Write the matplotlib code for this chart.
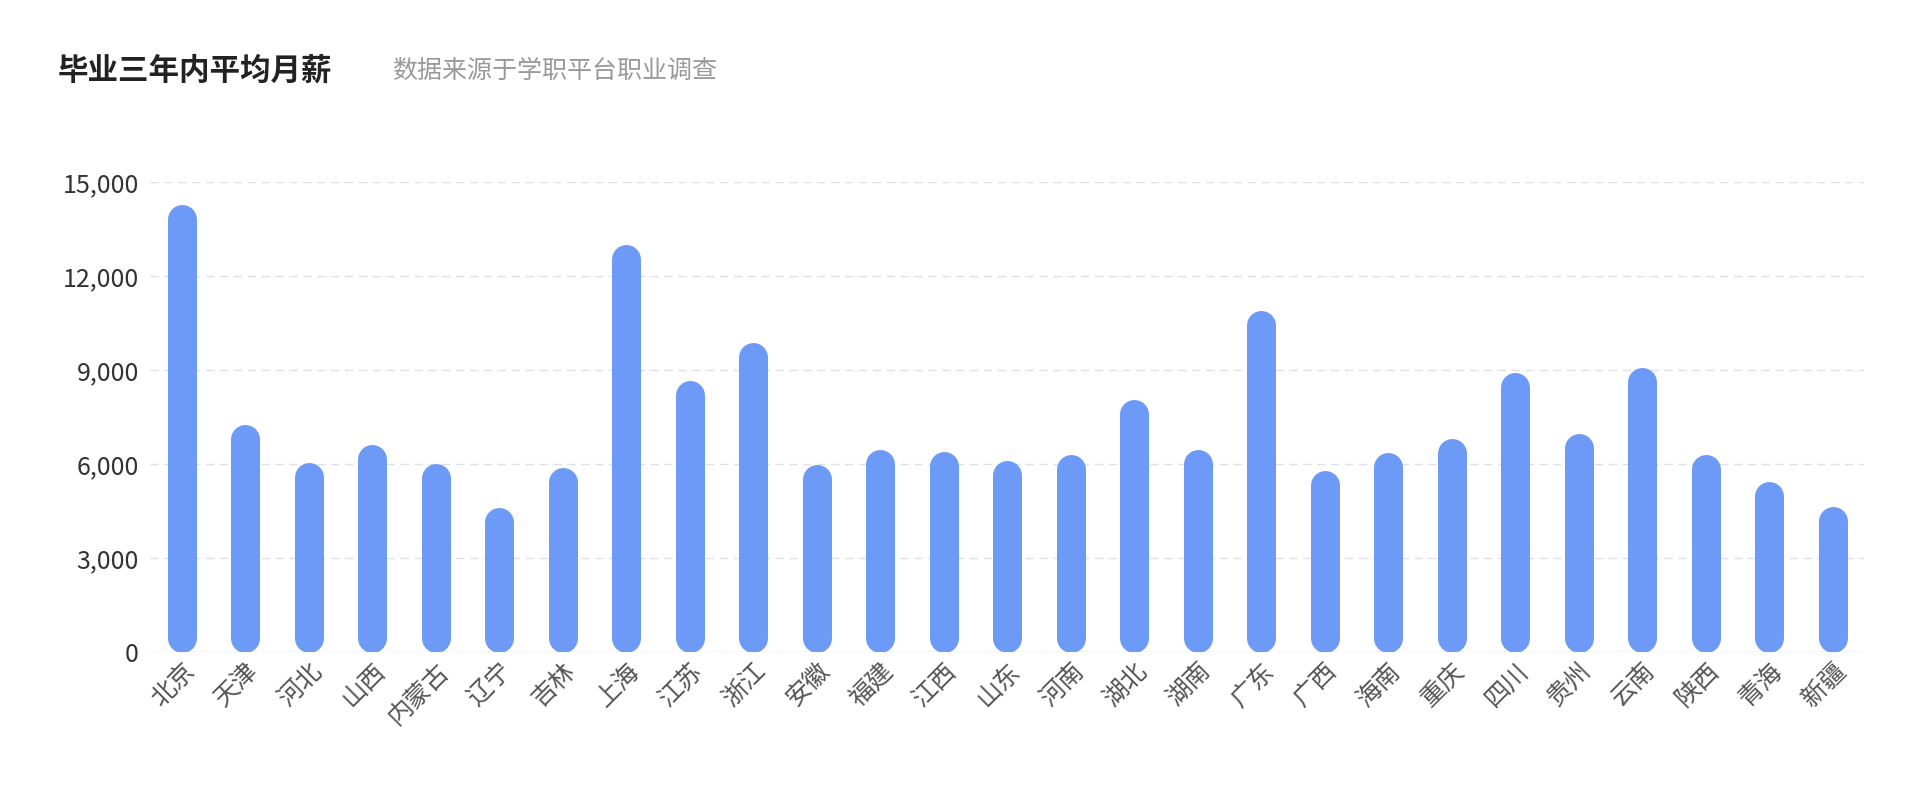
import matplotlib

matplotlib.use("Agg")
import matplotlib.pyplot as plt
from matplotlib.ticker import FuncFormatter

plt.rcParams["font.family"] = ["Noto Sans CJK SC", "DejaVu Sans"]

provinces = ["北京", "天津", "河北", "山西", "内蒙古", "辽宁", "吉林", "上海", "江苏", "浙江",
             "安徽", "福建", "江西", "山东", "河南", "湖北", "湖南", "广东", "广西", "海南",
             "重庆", "四川", "贵州", "云南", "陕西", "青海", "新疆"]
salary = [14290, 7280, 6055, 6650, 6015, 4630, 5900, 13020, 8670, 9890,
          5980, 6490, 6410, 6130, 6330, 8070, 6490, 10920, 5820, 6370,
          6810, 8940, 6970, 9100, 6330, 5460, 4670]
yticks = [0, 3000, 6000, 9000, 12000, 15000]

W, H, DPI = 1922, 786, 100
fig = plt.figure(figsize=(W / DPI, H / DPI), dpi=DPI)
ax = fig.add_axes([0.078, 0.17, 0.892, 0.598])
ax.set_ylim(0, 15000)
ax.set_xlim(-0.5, len(provinces) - 0.5)

# bar width in pixels -> round-capped thick lines
bar_px = 29
lw_pt = bar_px * 72 / DPI
ax_h_px = 0.598 * H
r = (bar_px / 2) * 15000 / ax_h_px
for i, v in enumerate(salary):
    ax.plot([i, i], [r, v - r], color="#6d99f7", linewidth=lw_pt,
            solid_capstyle="round", zorder=3)

ax.set_yticks(yticks)
ax.yaxis.set_major_formatter(FuncFormatter(lambda v, _: f"{int(v):,}"))
ax.grid(axis="y", color="#dde1e6", linestyle=(0, (6, 4)), linewidth=1)
ax.set_xticks(range(len(provinces)))
ax.set_xticklabels(provinces, rotation=45, ha="right", rotation_mode="anchor",
                   fontsize=18, color="#555555")
ax.tick_params(axis="y", labelsize=18, labelcolor="#333333", length=0, pad=8)
ax.tick_params(axis="x", length=0, pad=4)
for s in ax.spines.values():
    s.set_visible(False)
ax.axhline(0, color="#dde1e6", linewidth=1, zorder=1)

fig.text(0.03, 0.91, "毕业三年内平均月薪", fontsize=22, fontweight="bold",
         color="#222222", va="center")
fig.text(0.204, 0.91, "数据来源于学职平台职业调查", fontsize=18,
         color="#999999", va="center")

fig.savefig("out.png", dpi=DPI)
